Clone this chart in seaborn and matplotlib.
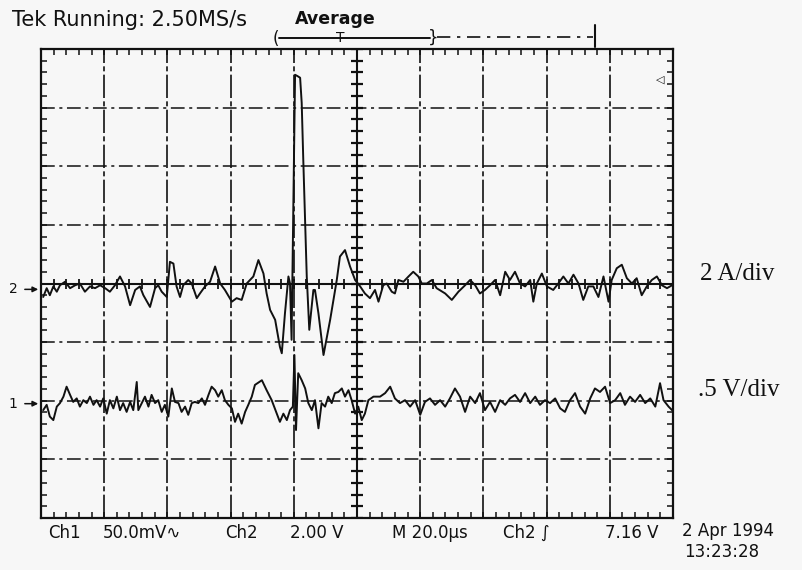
#!/usr/bin/env python3
import numpy as np
import matplotlib
matplotlib.use("Agg")
import matplotlib.pyplot as plt
import seaborn as sns
import pandas as pd

OUTPUT = "out.png"

# Tek scope screen: 10 x 8 divisions, 20 us/div horizontally
X_DIVS = 10
Y_DIVS = 8
US_PER_DIV = 20

# Ch2 (current, 2 A/div) -- time [us] and trace position [div]
ch2_t = [0.7, 1.8, 2.8, 3.9, 5.0, 6.0, 7.6, 9.2, 10.8, 12.3, 13.9, 15.5, 17.1, 18.7,
         20.3, 21.8, 23.4, 25.0, 26.6, 28.2, 29.8, 31.3, 32.4, 34.5, 36.1, 37.1, 38.2,
         39.8, 40.8, 41.9, 42.9, 44.0, 45.0, 46.6, 47.7, 49.3, 50.3, 51.9, 53.5, 55.1,
         56.7, 58.2, 60.4, 61.9, 63.5, 65.1, 67.2, 68.8, 70.4, 71.4, 72.5, 74.1, 75.6,
         76.2, 77.2, 78.3, 78.8, 79.3, 80.4, 81.1, 82.0, 82.5, 83.0, 84.1, 84.9, 86.2,
         86.7, 87.8, 89.4, 91.5, 93.6, 94.6, 96.2, 97.8, 99.4, 101.0, 102.5, 104.1,
         105.7, 106.8, 108.3, 109.4, 111.0, 112.0, 113.1, 114.7, 116.3, 117.8, 119.4,
         120.5, 122.1, 123.7, 125.2, 127.9, 130.0, 132.1, 134.2, 135.8, 137.4, 138.9,
         140.5, 142.1, 143.7, 145.3, 146.9, 148.4, 150.0, 151.6, 153.2, 154.8, 155.8,
         156.9, 158.5, 160.1, 162.1, 163.7, 165.3, 166.9, 168.5, 170.1, 171.6, 173.2,
         174.8, 176.4, 178.0, 179.6, 180.6, 182.2, 183.8, 185.4, 187.0, 188.5, 190.1,
         191.7, 193.3, 194.9, 196.5, 198.1, 199.7]
ch2_div = [-0.23, -0.08, -0.20, -0.05, -0.14, -0.03, 0.03, -0.08, -0.03, 0.00, -0.14,
           -0.05, -0.08, -0.03, -0.08, -0.14, -0.03, 0.12, -0.05, -0.37, -0.11, -0.05,
           -0.20, -0.40, -0.08, -0.03, -0.14, -0.23, 0.37, 0.34, -0.05, -0.23, -0.03,
           0.06, 0.00, -0.25, -0.17, -0.05, 0.03, 0.29, 0.00, -0.11, -0.31, -0.25,
           -0.28, 0.00, 0.12, 0.40, 0.17, -0.17, -0.45, -0.62, -1.08, -1.19, -0.51,
           0.12, 0.00, -0.96, 3.56, 3.54, 3.51, 3.08, 2.11, 0.12, -0.79, -0.11, -0.11,
           -0.51, -1.22, -0.62, 0.06, 0.46, 0.57, 0.29, 0.06, -0.05, -0.17, -0.25,
           -0.11, -0.31, -0.03, 0.00, -0.14, -0.17, 0.06, 0.03, 0.12, 0.20, 0.12,
           0.00, 0.00, 0.06, -0.08, -0.17, -0.28, -0.14, -0.03, 0.06, -0.03, -0.17,
           -0.11, -0.03, 0.06, -0.20, 0.20, 0.06, 0.20, 0.00, -0.05, 0.06, -0.31,
           0.00, 0.17, -0.05, -0.11, 0.00, 0.12, 0.00, 0.15, 0.00, -0.28, -0.05,
           -0.05, -0.23, 0.12, -0.31, 0.06, 0.26, 0.32, 0.09, 0.00, 0.09, -0.20,
           -0.05, 0.06, 0.12, -0.03, -0.08, -0.03]

# Ch1 (voltage, .5 V/div)
ch1_t = [0.7, 1.8, 2.8, 3.9, 5.0, 6.0, 7.1, 8.1, 9.2, 10.2, 11.3, 12.3, 13.4, 14.5,
         15.5, 16.6, 17.6, 18.7, 19.7, 20.8, 21.8, 22.9, 24.0, 25.0, 26.0, 27.1, 28.2,
         29.2, 30.3, 30.8, 31.9, 32.9, 34.0, 35.0, 36.1, 37.1, 38.2, 39.2, 40.3, 41.4,
         42.4, 43.5, 44.5, 45.6, 46.6, 47.7, 48.7, 49.8, 50.9, 51.9, 53.0, 54.0, 55.1,
         56.1, 57.2, 58.2, 59.3, 60.4, 61.4, 62.4, 63.5, 64.6, 65.6, 66.7, 67.7, 69.9,
         71.4, 73.0, 74.6, 75.6, 76.7, 77.8, 78.8, 79.7, 80.2, 80.7, 81.4, 82.5, 83.6,
         84.6, 85.7, 86.7, 87.8, 88.8, 89.9, 90.9, 92.0, 93.0, 94.1, 95.2, 96.2, 97.3,
         98.3, 99.4, 100.4, 101.5, 102.5, 103.6, 105.2, 107.3, 108.9, 110.5, 112.0,
         113.6, 115.2, 116.8, 118.4, 120.0, 121.5, 123.1, 124.7, 126.3, 127.9, 129.4,
         131.0, 132.6, 134.2, 135.8, 137.4, 138.9, 140.5, 142.1, 143.7, 145.3, 146.9,
         148.4, 150.0, 151.6, 153.2, 154.8, 156.4, 157.9, 159.5, 161.1, 162.7, 164.3,
         165.8, 167.4, 169.0, 170.6, 172.2, 173.8, 175.3, 176.9, 178.5, 180.1, 181.7,
         183.3, 184.8, 186.4, 188.0, 189.6, 191.2, 192.8, 194.4, 195.9, 197.0, 198.6,
         199.7]
ch1_div = [-2.16, -2.07, -2.27, -2.33, -2.10, -2.04, -1.93, -1.76, -1.90, -2.02, -1.96,
           -2.10, -1.99, -2.04, -1.93, -2.07, -1.99, -2.10, -1.96, -2.22, -1.99, -2.13,
           -1.93, -2.16, -2.04, -2.19, -2.02, -2.16, -1.68, -2.16, -2.04, -1.93, -2.10,
           -1.90, -2.04, -1.99, -2.19, -2.07, -2.27, -1.79, -2.02, -2.04, -2.19, -2.10,
           -2.24, -2.04, -2.02, -2.04, -1.96, -2.07, -1.90, -1.76, -1.82, -1.93, -1.82,
           -1.99, -2.07, -2.13, -2.36, -2.22, -2.39, -2.19, -2.07, -1.93, -1.73, -1.65,
           -1.82, -1.99, -2.22, -2.36, -2.22, -2.33, -2.16, -2.10, -1.22, -2.50, -1.53,
           -1.65, -1.79, -2.04, -2.16, -1.99, -2.47, -2.04, -2.10, -1.93, -2.04, -1.87,
           -1.85, -1.79, -1.93, -1.82, -1.99, -2.22, -2.10, -2.33, -2.22, -1.99, -1.93,
           -1.93, -1.87, -1.76, -1.96, -2.04, -1.99, -2.10, -1.99, -2.24, -2.02, -1.96,
           -2.07, -1.99, -2.10, -1.96, -1.79, -1.93, -2.19, -1.93, -2.04, -1.87, -2.16,
           -2.02, -2.19, -1.99, -2.07, -1.96, -1.90, -2.02, -1.87, -2.04, -1.93, -2.07,
           -1.99, -2.04, -1.96, -2.13, -2.19, -1.99, -1.87, -2.10, -2.22, -1.96, -1.79,
           -1.85, -1.76, -2.04, -1.99, -1.87, -2.07, -1.93, -2.02, -1.90, -2.04, -1.96,
           -2.10, -1.70, -1.99, -2.10, -2.16]

CH2_GROUND = -0.1
CH1_GROUND = -2.05
TRIG_LEVEL = 3.48

STATUS = "Tek Running: 2.50MS/s"
MODE = "Average"
READOUT = ["Ch1", "50.0mV\u223f", "Ch2", "2.00 V", "M 20.0\u00b5s", "Ch2 \u222b", "7.16 V"]
SCALES = ["2 A/div", ".5 V/div"]
STAMP = ["2 Apr 1994", "13:23:28"]

INK = "#111111"
PAPER = "#f7f7f7"

W, H = 802, 570


def log(s: str):
    print(s, flush=True)


def main():
    df = pd.concat([
        pd.DataFrame({'t_us': ch2_t, 'div': ch2_div, 'channel': 'Ch2'}),
        pd.DataFrame({'t_us': ch1_t, 'div': ch1_div, 'channel': 'Ch1'}),
    ], ignore_index=True)

    sns.set_style("white")
    plt.rcParams['font.family'] = ['DejaVu Sans']

    fig = plt.figure(figsize=(W / 100, H / 100), dpi=100, facecolor=PAPER)

    # overlay in pixel coordinates for the screen readouts
    ov = fig.add_axes([0, 0, 1, 1])
    ov.set_xlim(0, W)
    ov.set_ylim(H, 0)
    ov.axis('off')

    # graticule area
    left, right, top, bottom = 41, 673, 49, 518
    ax = fig.add_axes([left / W, (H - bottom) / H, (right - left) / W, (bottom - top) / H])
    ax.set_facecolor('none')
    xmax = X_DIVS * US_PER_DIV
    ax.set_xlim(0, xmax)
    ax.set_ylim(-Y_DIVS / 2, Y_DIVS / 2)

    # vertical graticule lines come out nearly solid in the scan, horizontal ones dash-dot
    for x in range(US_PER_DIV, xmax, US_PER_DIV):
        ax.axvline(x, color=INK, lw=1.2, ls=(0, (14, 2, 3, 2)), zorder=1)
    for y in range(-Y_DIVS // 2 + 1, Y_DIVS // 2):
        ax.axhline(y, color=INK, lw=1.1, ls=(0, (9, 3, 2, 3)), zorder=1)

    # centre cross with minor ticks
    ax.axvline(xmax / 2, color=INK, lw=1.5, zorder=1)
    ax.axhline(0, color=INK, lw=1.5, zorder=1)
    yt = np.arange(-Y_DIVS / 2, Y_DIVS / 2 + 0.01, 0.2)
    xt = np.arange(0, xmax + 0.01, US_PER_DIV / 5)
    ax.plot(np.full_like(yt, xmax / 2), yt, ls='none', marker='_', ms=9, mew=1.6,
            color=INK, zorder=1)
    ax.plot(xt, np.zeros_like(xt), ls='none', marker='|', ms=7, mew=1.3,
            color=INK, zorder=1)

    # border with inward ticks
    for s in ax.spines.values():
        s.set_visible(True)
        s.set_color(INK)
        s.set_linewidth(1.6)
    ax.set_xticks(xt)
    ax.set_yticks(yt)
    ax.tick_params(axis='both', direction='in', length=4, width=1.1, color=INK,
                   top=True, right=True, bottom=True, left=True,
                   labelbottom=False, labelleft=False)

    sns.lineplot(data=df, x='t_us', y='div', units='channel', estimator=None,
                 sort=False, color=INK, lw=1.4, ax=ax, zorder=3, legend=False)
    ax.set_xlabel("")
    ax.set_ylabel("")

    # channel ground markers on the left
    for name, g in (("2", CH2_GROUND), ("1", CH1_GROUND)):
        ax.annotate("", xy=(0, g), xytext=(-6, g), annotation_clip=False,
                    arrowprops=dict(arrowstyle='-|>', color=INK, lw=1.1,
                                    mutation_scale=8))
        ax.text(-7.5, g, name, ha='right', va='center', fontsize=10, color=INK,
                clip_on=False)
    # trigger level marker on the right
    ax.text(xmax - 4, TRIG_LEVEL, "\u25c1", ha='center', va='center', fontsize=8,
            color=INK, clip_on=False)

    # top status line
    ov.text(12, 20, STATUS, ha='left', va='center', fontsize=15, color=INK)
    ov.text(295, 19, MODE, ha='left', va='center', fontsize=12.5, weight='bold',
            color=INK)

    # record / trigger bar
    ov.plot([279, 430], [38, 38], color=INK, lw=1.4)
    ov.plot([437, 593], [37, 37], color=INK, lw=1.2, ls=(0, (8, 4, 2, 4)))
    ov.plot([595, 595], [25, 47], color=INK, lw=1.5)
    ov.text(276, 39, "(", ha='center', va='center', fontsize=12, color=INK)
    ov.text(433, 38, "}", ha='center', va='center', fontsize=12, color=INK)
    ov.text(340, 38, "T", ha='center', va='center', fontsize=10, color=INK)

    # bottom readout
    xs = [48, 103, 225, 290, 392, 503, 605]
    for x, s in zip(xs, READOUT):
        ov.text(x, 533, s, ha='left', va='center', fontsize=12, color=INK)
    ov.text(682, 531, STAMP[0], ha='left', va='center', fontsize=12, color=INK)
    ov.text(684, 552, STAMP[1], ha='left', va='center', fontsize=12, color=INK)

    # probe scale labels
    ov.text(700, 274, SCALES[0], ha='left', va='center', fontsize=18,
            family='Liberation Serif', color=INK)
    ov.text(698, 390, SCALES[1], ha='left', va='center', fontsize=18,
            family='Liberation Serif', color=INK)

    fig.savefig(OUTPUT, dpi=100, facecolor=PAPER)
    plt.close()
    log(f"wrote {OUTPUT}")


if __name__ == '__main__':
    main()
